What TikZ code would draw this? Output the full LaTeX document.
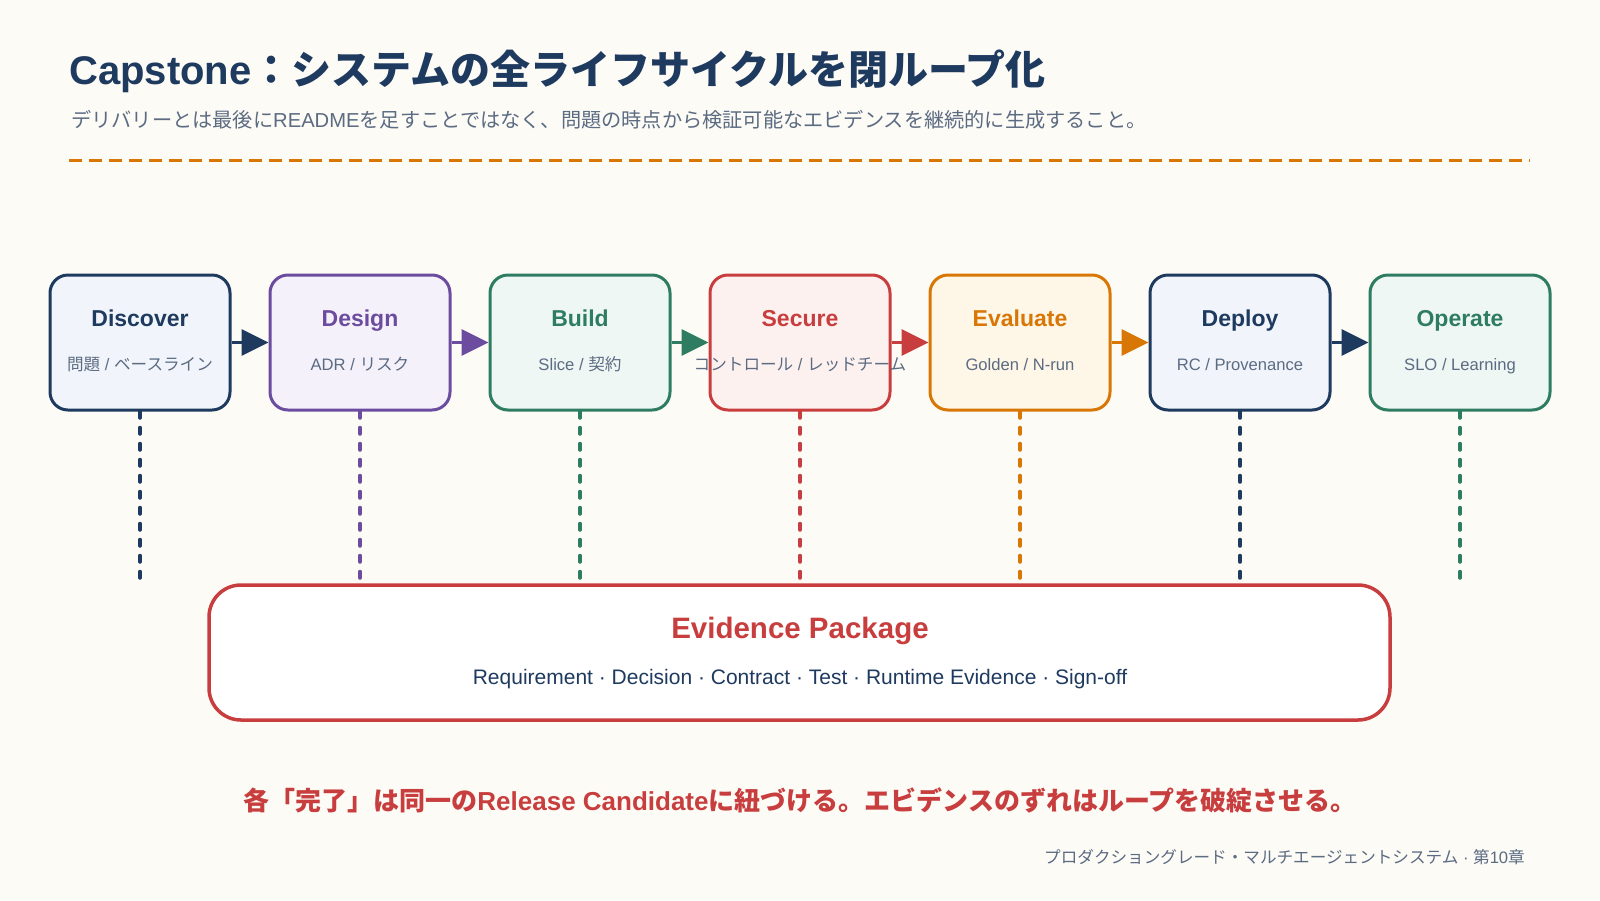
\documentclass[tikz,border=0pt]{standalone}
\usepackage{fontspec}
\setmainfont{Liberation Sans}
\newfontfamily\jp{Noto Sans CJK JP}
\usetikzlibrary{arrows.meta,calc}

\definecolor{bg}{HTML}{FDFBF6}
\definecolor{navy}{HTML}{1E3A5F}
\definecolor{purp}{HTML}{6B4C9F}
\definecolor{grn}{HTML}{2E7D62}
\definecolor{redc}{HTML}{C83E3E}
\definecolor{orng}{HTML}{D97706}
\definecolor{graytxt}{HTML}{5B6B82}
\definecolor{fnavy}{HTML}{F1F5FB}
\definecolor{fpurp}{HTML}{F5F1FB}
\definecolor{fgrn}{HTML}{EFF7F4}
\definecolor{fred}{HTML}{FDF1F0}
\definecolor{forng}{HTML}{FEF6E7}

\begin{document}
\begin{tikzpicture}[x=1pt,y=-1pt,
  stage/.style 2 args={draw=#1, fill=#2, line width=3pt, rounded corners=18pt,
    minimum width=180pt, minimum height=135pt, inner sep=0pt},
  stitle/.style={text=#1, font=\fontsize{23}{27}\selectfont\bfseries, anchor=base, inner sep=0pt},
  ssub/.style={text=graytxt, font=\fontsize{16.6}{20}\selectfont, anchor=base, inner sep=0pt},
  flow/.style={draw=#1, line width=3.5pt, -{Triangle[length=27pt,width=26pt,#1]}},
  link/.style={draw=#1, line width=3.5pt, line cap=round, dash pattern=on 6.5pt off 9.5pt},
]
\useasboundingbox (0,0) rectangle (1600,900);
\fill[bg] (0,0) rectangle (1600,900);

% header
\node[anchor=base west, inner sep=0pt, text=navy, font=\fontsize{40}{47}\selectfont\bfseries] (title) at (69,84)
  {Capstone{\jp ：システムの全ライフサイクルを閉ループ化}};
\node[anchor=base west, inner sep=0pt, text=graytxt, font=\fontsize{20.2}{24}\selectfont] (subtitle) at (71,127)
  {{\jp デリバリーとは最後に}README{\jp を足すことではなく、問題の時点から検証可能なエビデンスを継続的に生成すること。}};
\coordinate (r1) at (69,160);
\coordinate (r2) at (1530,160);
\draw[orng, line width=3pt, dash pattern=on 13pt off 7pt] (r1) -- (r2);

% stages
\node[stage={navy}{fnavy}] (b1) at (140,342.5) {};
\node[stage={purp}{fpurp}] (b2) at (360,342.5) {};
\node[stage={grn}{fgrn}]   (b3) at (580,342.5) {};
\node[stage={redc}{fred}]  (b4) at (800,342.5) {};
\node[stage={orng}{forng}] (b5) at (1020,342.5) {};
\node[stage={navy}{fnavy}] (b6) at (1240,342.5) {};
\node[stage={grn}{fgrn}]   (b7) at (1460,342.5) {};

\node[stitle=navy] (t1) at (140,326) {Discover};
\node[stitle=purp] (t2) at (360,326) {Design};
\node[stitle=grn]  (t3) at (580,326) {Build};
\node[stitle=redc] (t4) at (800,326) {Secure};
\node[stitle=orng] (t5) at (1020,326) {Evaluate};
\node[stitle=navy] (t6) at (1240,326) {Deploy};
\node[stitle=grn]  (t7) at (1460,326) {Operate};

\node[ssub] (s1) at (140,370) {{\jp 問題} / {\jp ベースライン}};
\node[ssub] (s2) at (360,370) {ADR / {\jp リスク}};
\node[ssub] (s3) at (580,370) {Slice / {\jp 契約}};
\node[ssub] (s4) at (800,370) {{\jp コントロール} / {\jp レッドチーム}};
\node[ssub] (s5) at (1020,370) {Golden / N-run};
\node[ssub] (s6) at (1240,370) {RC / Provenance};
\node[ssub] (s7) at (1460,370) {SLO / Learning};

\draw[flow=navy] (b1.east) -- (b2.west);
\draw[flow=purp] (b2.east) -- (b3.west);
\draw[flow=grn]  (b3.east) -- (b4.west);
\draw[flow=redc] (b4.east) -- (b5.west);
\draw[flow=orng] (b5.east) -- (b6.west);
\draw[flow=navy] (b6.east) -- (b7.west);

% evidence package
\node[draw=redc, fill=white, line width=3.5pt, rounded corners=32pt,
  minimum width=1181pt, minimum height=135pt, inner sep=0pt] (ep) at (799.5,652.5) {};
\node[anchor=base, inner sep=0pt, text=redc, font=\fontsize{29.5}{35}\selectfont\bfseries] (ept) at (800,638) {Evidence Package};
\node[anchor=base, inner sep=0pt, text=navy, font=\fontsize{21}{25}\selectfont] (eps) at (800,684.5)
  {Requirement · Decision · Contract · Test · Runtime Evidence · Sign-off};

\coordinate (e1) at (140,580);
\coordinate (e2) at (360,580);
\coordinate (e3) at (580,580);
\coordinate (e4) at (800,580);
\coordinate (e5) at (1020,580);
\coordinate (e6) at (1240,580);
\coordinate (e7) at (1460,580);
\draw[link=navy] (b1.south) -- (e1);
\draw[link=purp] (b2.south) -- (e2);
\draw[link=grn]  (b3.south) -- (e3);
\draw[link=redc] (b4.south) -- (e4);
\draw[link=orng] (b5.south) -- (e5);
\draw[link=navy] (b6.south) -- (e6);
\draw[link=grn]  (b7.south) -- (e7);

% footer texts
\node[anchor=base, inner sep=0pt, text=redc, font=\fontsize{26}{31}\selectfont\bfseries] (msg) at (800,810)
  {{\jp 各「完了」は同一の}Release Candidate{\jp に紐づける。エビデンスのずれはループを破綻させる。}};
\node[anchor=base east, inner sep=0pt, text=graytxt, font=\fontsize{16.6}{20}\selectfont] (foot) at (1525,863)
  {{\jp プロダクショングレード・マルチエージェントシステム} · {\jp 第}10{\jp 章}};
\end{tikzpicture}
\end{document}
